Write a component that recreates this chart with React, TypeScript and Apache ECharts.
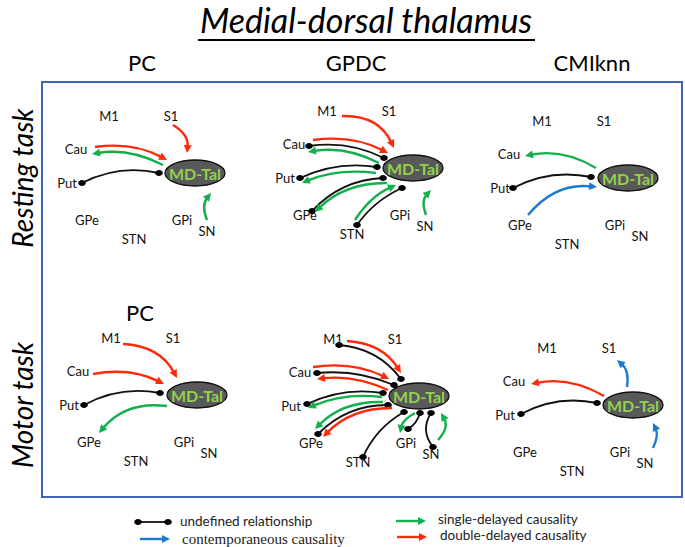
import React, { useEffect, useRef } from "react";
import * as echarts from "echarts";

// ---------------- data ----------------
const title = "Medial-dorsal thalamus";
const methods = ["PC", "GPDC", "CMIknn"];
const tasks = ["Resting task", "Motor task"];
const regions = ["M1", "S1", "Cau", "Put", "GPe", "STN", "GPi", "SN"];
const hub = "MD-Tal";
const relationKinds = ["u", "c", "s", "d"];
const relationNames = [
  "undefined relationship",
  "contemporaneous causality",
  "single-delayed causality",
  "double-delayed causality",
];

// edges: [region, kind, direction]  in: region -> MD-Tal, out: MD-Tal -> region, "-": undirected
const restingPC = [
  ["S1", "d", "in"],
  ["Cau", "d", "in"],
  ["Cau", "s", "out"],
  ["Put", "u", "-"],
  ["SN", "s", "in"],
];
const restingGPDC = [
  ["M1", "d", "in"],
  ["Cau", "d", "in"],
  ["Cau", "u", "-"],
  ["Cau", "s", "out"],
  ["Put", "u", "-"],
  ["Put", "s", "out"],
  ["GPe", "u", "-"],
  ["GPe", "s", "out"],
  ["STN", "s", "in"],
  ["STN", "u", "-"],
  ["SN", "s", "in"],
];
const restingCMIknn = [
  ["Cau", "s", "out"],
  ["Put", "u", "-"],
  ["GPe", "c", "in"],
];
const motorPC = [
  ["M1", "d", "in"],
  ["Cau", "d", "in"],
  ["Put", "u", "-"],
  ["GPe", "s", "out"],
];
const motorGPDC = [
  ["M1", "u", "-"],
  ["M1", "d", "in"],
  ["Cau", "d", "in"],
  ["Cau", "u", "-"],
  ["Cau", "d", "out"],
  ["Put", "u", "-"],
  ["Put", "s", "out"],
  ["GPe", "s", "out"],
  ["GPe", "u", "-"],
  ["GPe", "d", "out"],
  ["STN", "u", "-"],
  ["GPi", "s", "out"],
  ["GPi", "u", "-"],
  ["SN", "u", "-"],
  ["SN", "s", "in"],
];
const motorCMIknn = [
  ["Cau", "d", "out"],
  ["Put", "u", "-"],
  ["S1", "c", "out"],
  ["SN", "c", "in"],
];
const panelEdges = [restingPC, restingGPDC, restingCMIknn, motorPC, motorGPDC, motorCMIknn];

// ---------------- layout ----------------
const W = 685;
const H = 547;
const panelHub = [
  [195, 173],
  [413, 168],
  [628, 178],
  [197, 395],
  [419, 396],
  [633, 405],
];
const regionOffset: Record<string, number[]> = {
  M1: [-86, -57],
  S1: [-24, -57],
  Cau: [-119, -24],
  Put: [-128, 10],
  GPe: [-108, 47],
  STN: [-61, 66],
  GPi: [-13, 47],
  SN: [12, 58],
};
// edge geometry relative to the hub centre: start x, start y, end x, end y, bend
const edgeShape = [
  [
    [-22, -48, -8, -20, -5],
    [-100, -26, -28, -13, -6],
    [-32, -8, -103, -19, 6],
    [-113, 10, -36, 0, -7],
    [12, 47, 16, 20, -4],
  ],
  [
    [-71, -52, -19, -20, -10],
    [-100, -28, -25, -15, -6],
    [-104, -22, -29, -10, -6],
    [-34, -5, -105, -16, 6],
    [-113, 10, -36, -1, -6],
    [-37, 5, -111, 15, 5],
    [-101, 43, -30, 10, -8],
    [-26, 15, -98, 44, 8],
    [-58, 52, -17, 17, -4],
    [-56, 57, -11, 20, -4],
    [13, 47, 18, 22, -4],
  ],
  [
    [-32, -10, -103, -22, 7],
    [-115, 10, -37, -1, -7],
    [-100, 37, -31, 9, -10],
  ],
  [
    [-74, -51, -20, -17, -9],
    [-104, -21, -33, -11, -6],
    [-113, 10, -37, -2, -7],
    [-30, 11, -98, 38, 10],
  ],
  [
    [-80, -51, -18, -17, -8],
    [-72, -55, -18, -23, -8],
    [-106, -29, -30, -17, -6],
    [-102, -23, -25, -11, -5],
    [-31, -6, -102, -17, 5],
    [-112, 8, -36, -3, -6],
    [-37, 1, -111, 12, 5],
    [-36, 6, -104, 33, 8],
    [-101, 38, -31, 9, -8],
    [-27, 12, -96, 41, 8],
    [-56, 61, -15, 16, -5],
    [-4, 17, -19, 37, 3],
    [-11, 33, 1, 17, 2],
    [14, 51, 12, 17, -6],
    [19, 44, 22, 17, 5],
  ],
  [
    [-29, -9, -102, -21, 7],
    [-112, 9, -36, -2, -7],
    [-6, -18, -16, -45, 4],
    [20, 43, 20, 18, 3],
  ],
];
const methodX = [142, 356, 592];
const kindColor = ["#111111", "#1c7bd0", "#12b04c", "#ff2a0a"];
const FONT = "Lato, 'Open Sans', sans-serif";

// ---------------- build series data ----------------
const hubData = panelHub.map((h) => [h[0], h[1]]);
const labelData: number[][] = [];
const labelNames: string[] = [];
panelHub.forEach((h) => {
  regions.forEach((r) => {
    const o = regionOffset[r];
    labelData.push([h[0] + o[0], h[1] + o[1]]);
    labelNames.push(r);
  });
});
const edgeData: number[][] = [];
panelEdges.forEach((edges, p) => {
  const h = panelHub[p];
  edges.forEach((e, i) => {
    const g = edgeShape[p][i];
    edgeData.push([h[0] + g[0], h[1] + g[1], h[0] + g[2], h[1] + g[3], g[4], relationKinds.indexOf(e[1])]);
  });
});

function arrowHead(bx: number, by: number, tx: number, ty: number, color: string, L = 8, hw = 4) {
  return {
    type: "polygon",
    shape: {
      points: [
        [bx, by],
        [bx - tx * L - ty * hw, by - ty * L + tx * hw],
        [bx - tx * L + ty * hw, by - ty * L - tx * hw],
      ],
    },
    style: { fill: color, stroke: "none" },
  };
}

function renderEdge(params: any, api: any) {
  const a = api.coord([api.value(0), api.value(1)]);
  const b = api.coord([api.value(2), api.value(3)]);
  const bend = api.value(4);
  const k = api.value(5);
  const dx = b[0] - a[0];
  const dy = b[1] - a[1];
  const len = Math.hypot(dx, dy) || 1;
  const nx = -dy / len;
  const ny = dx / len;
  const cx = (a[0] + b[0]) / 2 + nx * bend * 2;
  const cy = (a[1] + b[1]) / 2 + ny * bend * 2;
  const color = kindColor[k];
  const children: any[] = [];
  if (k === 0) {
    children.push({
      type: "bezierCurve",
      shape: { x1: a[0], y1: a[1], x2: b[0], y2: b[1], cpx1: cx, cpy1: cy },
      style: { stroke: color, lineWidth: 1.8, fill: "none" },
    });
    [a, b].forEach((p) =>
      children.push({ type: "ellipse", shape: { cx: p[0], cy: p[1], rx: 3.8, ry: 3 }, style: { fill: "#000" } })
    );
  } else {
    let tx = b[0] - cx;
    let ty = b[1] - cy;
    const tl = Math.hypot(tx, ty) || 1;
    tx /= tl;
    ty /= tl;
    const ex = b[0] - tx * 6;
    const ey = b[1] - ty * 6;
    children.push({
      type: "bezierCurve",
      shape: { x1: a[0], y1: a[1], x2: ex, y2: ey, cpx1: cx, cpy1: cy },
      style: { stroke: color, lineWidth: 2.4, fill: "none" },
    });
    children.push(arrowHead(b[0], b[1], tx, ty, color));
  }
  return { type: "group", children };
}

function renderHub(params: any, api: any) {
  const c = api.coord([api.value(0), api.value(1)]);
  return {
    type: "group",
    children: [
      {
        type: "ellipse",
        shape: { cx: c[0], cy: c[1], rx: 30, ry: 13 },
        style: { fill: "#595959", stroke: "#111", lineWidth: 1.3 },
      },
      {
        type: "text",
        x: c[0],
        y: c[1] + 0.5,
        style: {
          text: hub,
          fill: "#92d050",
          fontSize: 16,
          fontWeight: "bold",
          fontFamily: FONT,
          align: "center",
          verticalAlign: "middle",
          textAlign: "center",
          textVerticalAlign: "middle",
        },
      },
    ],
  };
}

function renderLabel(params: any, api: any) {
  const c = api.coord([api.value(0), api.value(1)]);
  return {
    type: "text",
    x: c[0],
    y: c[1],
    style: {
      text: labelNames[params.dataIndex],
      fill: "#111",
      fontSize: 13,
      fontFamily: FONT,
      align: "center",
      verticalAlign: "middle",
      textAlign: "center",
      textVerticalAlign: "middle",
    },
  };
}

function txt(text: string, x: number, y: number, size: number, extra: any = {}) {
  return {
    type: "text",
    x,
    y,
    rotation: extra.rotation || 0,
    z: 10,
    style: {
      text,
      fill: extra.fill || "#000",
      fontSize: size,
      fontFamily: extra.family || FONT,
      fontStyle: extra.italic ? "italic" : "normal",
      fontWeight: extra.bold ? "bold" : "normal",
      align: extra.align || "center",
      verticalAlign: "middle",
      textAlign: extra.align || "center",
      textVerticalAlign: "middle",
    },
  };
}

function buildGraphics() {
  const g: any[] = [];
  g.push({
    type: "rect",
    z: 1,
    shape: { x: 42, y: 82, width: 640, height: 415 },
    style: { fill: "none", stroke: "#4266b0", lineWidth: 2 },
  });
  g.push(txt(title, 366, 19, 34, { italic: true }));
  g.push({ type: "line", z: 10, shape: { x1: 198, y1: 40, x2: 535, y2: 40 }, style: { stroke: "#000", lineWidth: 2 } });
  methods.forEach((m, i) => g.push(txt(m, methodX[i], 62, 22)));
  g.push(txt(methods[0], 140, 312, 22));
  g.push(txt(tasks[0], 22, 178, 28, { italic: true, rotation: Math.PI / 2 }));
  g.push(txt(tasks[1], 22, 405, 28, { italic: true, rotation: Math.PI / 2 }));

  // legend
  const glyphX = [138, 140, 396, 397];
  const glyphY = [522, 539, 521, 537];
  const textX = [180, 182, 438, 440];
  const textY = [521, 539, 519, 535];
  relationNames.forEach((name, i) => {
    const color = kindColor[i];
    const x0 = glyphX[i];
    const y0 = glyphY[i];
    const x1 = x0 + 30;
    if (i === 0) {
      g.push({ type: "line", z: 10, shape: { x1: x0, y1: y0, x2: x1, y2: y0 }, style: { stroke: color, lineWidth: 1.8 } });
      g.push({ type: "ellipse", z: 10, shape: { cx: x0, cy: y0, rx: 3.8, ry: 3 }, style: { fill: "#000" } });
      g.push({ type: "ellipse", z: 10, shape: { cx: x1, cy: y0, rx: 3.8, ry: 3 }, style: { fill: "#000" } });
    } else {
      g.push({ type: "line", z: 10, shape: { x1: x0, y1: y0, x2: x1 - 6, y2: y0 }, style: { stroke: color, lineWidth: 2.4 } });
      g.push({ ...arrowHead(x1, y0, 1, 0, color), z: 10 });
    }
    g.push(
      txt(name, textX[i], textY[i], i === 1 ? 15 : 13.5, {
        align: "left",
        fill: "#222",
        family: i === 1 ? "'Liberation Serif', 'DejaVu Serif', serif" : FONT,
      })
    );
  });
  return g;
}

export default function App() {
  const ref = useRef<HTMLDivElement>(null);
  useEffect(() => {
    if (!ref.current) return;
    const chart = echarts.init(ref.current, null, { renderer: "svg" });
    chart.setOption({
      animation: false,
      backgroundColor: "#ffffff",
      grid: { left: 0, top: 0, right: 0, bottom: 0 },
      xAxis: { type: "value", min: 0, max: W, show: false },
      yAxis: { type: "value", min: 0, max: H, inverse: true, show: false },
      tooltip: { show: false },
      graphic: { elements: buildGraphics() },
      series: [
        {
          type: "custom",
          name: "hub",
          renderItem: renderHub,
          data: hubData,
          encode: { x: 0, y: 1 },
          clip: false,
          silent: true,
          z: 3,
        },
        {
          type: "custom",
          name: "edges",
          renderItem: renderEdge,
          data: edgeData,
          encode: { x: [0, 2], y: [1, 3] },
          clip: false,
          silent: true,
          z: 4,
        },
        {
          type: "custom",
          name: "regions",
          renderItem: renderLabel,
          data: labelData,
          encode: { x: 0, y: 1 },
          clip: false,
          silent: true,
          z: 5,
        },
      ],
    });
    return () => chart.dispose();
  }, []);
  return (
    <div
      ref={ref}
      style={{ position: "absolute", left: 0, top: 0, width: W, height: H, background: "#fff" }}
    />
  );
}
